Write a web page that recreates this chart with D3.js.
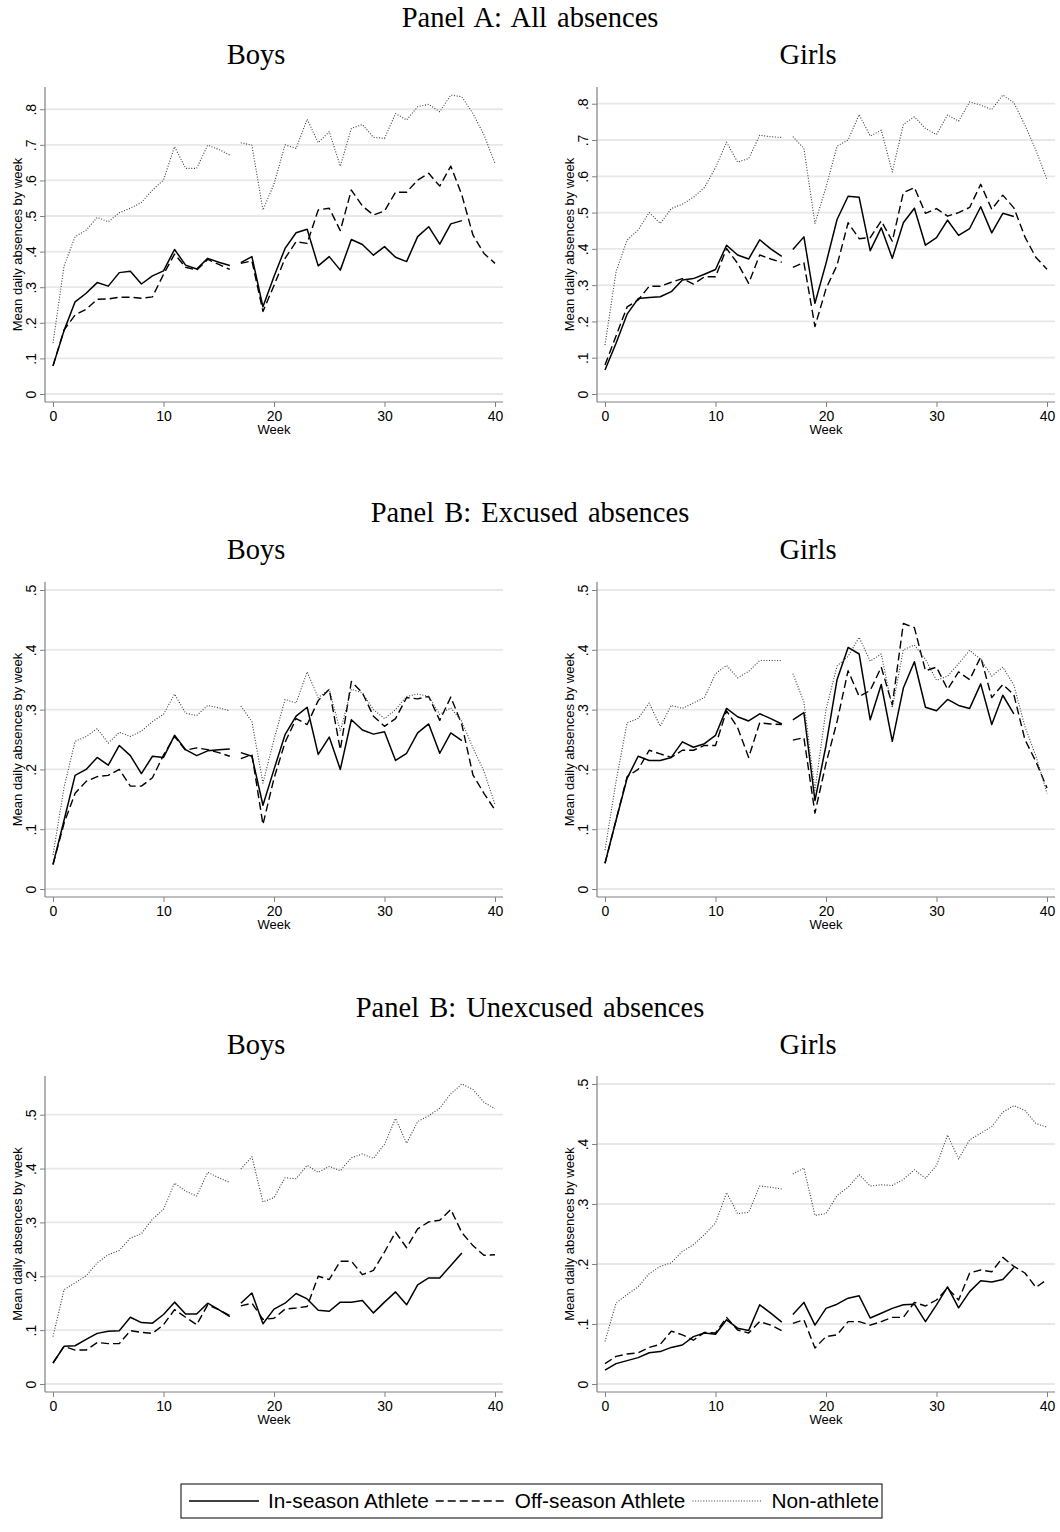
<!DOCTYPE html>
<html><head><meta charset="utf-8">
<script src="https://cdn.jsdelivr.net/npm/d3@7"></script>
<style>
html,body{margin:0;padding:0;background:#fff;}
svg{display:block;}
</style></head>
<body>
<svg id="chart" width="1060" height="1532"></svg>
<script>
// ---------------- DATA ----------------
const weeks = d3.range(0, 41);
const secondTermStart = 17;
const seriesNames = ["In-season Athlete", "Off-season Athlete", "Non-athlete"];
const panelTitles = ["Panel A: All absences", "Panel B: Excused absences", "Panel B: Unexcused absences"];
const genderLabels = ["Boys", "Girls"];
const allTicks = [0, .1, .2, .3, .4, .5, .6, .7, .8];
const excusedTicks = [0, .1, .2, .3, .4, .5];
const unexcusedTicks = [0, .1, .2, .3, .4, .5];
const weekTicks = [0, 10, 20, 30, 40];
const N = null;

// Panel A: all absences
const allBoysIn  = [0.079,0.178,0.259,0.283,0.313,0.303,0.341,0.345,0.309,0.332,0.346,0.406,0.362,0.351,0.381,0.370,0.361,0.369,0.386,0.245,0.330,0.409,0.453,0.463,0.360,0.386,0.348,0.434,0.420,0.390,0.414,0.384,0.372,0.442,0.470,0.421,0.478,0.487,N,N,N];
const allBoysOff = [0.079,0.180,0.222,0.238,0.266,0.267,0.272,0.272,0.269,0.273,0.336,0.393,0.356,0.348,0.378,0.364,0.350,0.367,0.374,0.232,0.305,0.381,0.428,0.423,0.517,0.522,0.459,0.573,0.528,0.503,0.514,0.567,0.567,0.601,0.620,0.584,0.640,0.559,0.447,0.395,0.367];
const allBoysNon = [0.143,0.360,0.442,0.460,0.496,0.484,0.509,0.522,0.538,0.573,0.601,0.695,0.634,0.634,0.699,0.687,0.671,0.706,0.699,0.517,0.590,0.700,0.690,0.772,0.706,0.737,0.640,0.746,0.757,0.721,0.718,0.788,0.770,0.807,0.814,0.793,0.840,0.835,0.788,0.728,0.648];
const allGirlsIn  = [0.066,0.140,0.220,0.263,0.266,0.268,0.282,0.314,0.318,0.330,0.343,0.410,0.383,0.372,0.425,0.400,0.379,0.398,0.433,0.250,0.360,0.481,0.545,0.542,0.395,0.458,0.374,0.472,0.512,0.410,0.431,0.479,0.437,0.456,0.516,0.444,0.498,0.489,N,N,N];
const allGirlsOff = [0.080,0.160,0.240,0.259,0.297,0.297,0.308,0.318,0.303,0.323,0.323,0.401,0.360,0.305,0.383,0.372,0.363,0.349,0.362,0.186,0.290,0.355,0.472,0.428,0.431,0.477,0.421,0.555,0.569,0.498,0.511,0.490,0.500,0.514,0.578,0.509,0.548,0.513,0.433,0.376,0.344];
const allGirlsNon = [0.135,0.337,0.424,0.452,0.500,0.470,0.511,0.523,0.542,0.569,0.624,0.694,0.639,0.649,0.713,0.709,0.707,0.709,0.677,0.470,0.570,0.683,0.700,0.770,0.711,0.727,0.612,0.743,0.764,0.732,0.715,0.769,0.752,0.805,0.796,0.784,0.824,0.803,0.741,0.672,0.591];

// Panel B: excused absences
const excBoysIn  = [0.041,0.115,0.190,0.200,0.220,0.207,0.240,0.223,0.193,0.222,0.220,0.257,0.233,0.223,0.231,0.233,0.234,0.228,0.222,0.140,0.200,0.258,0.289,0.304,0.225,0.254,0.200,0.283,0.266,0.259,0.263,0.215,0.227,0.261,0.276,0.227,0.261,0.248,N,N,N];
const excBoysOff = [0.041,0.110,0.160,0.180,0.188,0.190,0.200,0.172,0.172,0.186,0.224,0.255,0.232,0.236,0.233,0.228,0.222,0.218,0.225,0.108,0.185,0.245,0.285,0.275,0.315,0.334,0.233,0.347,0.328,0.289,0.272,0.285,0.320,0.318,0.322,0.282,0.321,0.275,0.191,0.160,0.132];
const excBoysNon = [0.057,0.170,0.247,0.255,0.268,0.244,0.262,0.255,0.264,0.280,0.292,0.326,0.294,0.290,0.307,0.303,0.298,0.306,0.280,0.177,0.250,0.317,0.311,0.363,0.320,0.334,0.264,0.334,0.328,0.300,0.285,0.300,0.322,0.326,0.322,0.292,0.303,0.280,0.236,0.197,0.141];
const excGirlsIn  = [0.043,0.115,0.185,0.222,0.215,0.215,0.220,0.246,0.237,0.243,0.257,0.302,0.288,0.281,0.293,0.285,0.276,0.283,0.295,0.148,0.240,0.350,0.404,0.393,0.283,0.342,0.247,0.336,0.380,0.304,0.298,0.317,0.307,0.302,0.343,0.275,0.324,0.293,N,N,N];
const excGirlsOff = [0.043,0.115,0.188,0.200,0.232,0.226,0.220,0.232,0.232,0.240,0.240,0.298,0.270,0.220,0.278,0.276,0.275,0.249,0.253,0.127,0.210,0.280,0.365,0.322,0.332,0.371,0.308,0.444,0.437,0.365,0.371,0.334,0.363,0.350,0.388,0.320,0.342,0.325,0.250,0.213,0.169];
const excGirlsNon = [0.065,0.180,0.278,0.285,0.311,0.272,0.307,0.302,0.311,0.320,0.360,0.374,0.353,0.364,0.382,0.382,0.382,0.360,0.313,0.165,0.300,0.373,0.389,0.421,0.381,0.393,0.303,0.400,0.408,0.384,0.349,0.356,0.377,0.399,0.384,0.356,0.371,0.341,0.272,0.222,0.160];

// Panel C: unexcused absences
const unxBoysIn  = [0.039,0.070,0.071,0.083,0.094,0.098,0.099,0.124,0.114,0.113,0.129,0.152,0.130,0.130,0.150,0.138,0.125,0.150,0.169,0.112,0.139,0.150,0.168,0.158,0.137,0.135,0.152,0.152,0.155,0.132,0.152,0.171,0.147,0.184,0.197,0.197,0.220,0.243,N,N,N];
const unxBoysOff = [0.039,0.070,0.063,0.063,0.077,0.075,0.075,0.099,0.096,0.094,0.110,0.138,0.124,0.110,0.147,0.138,0.127,0.145,0.150,0.120,0.122,0.139,0.141,0.144,0.200,0.194,0.228,0.228,0.203,0.211,0.245,0.282,0.253,0.288,0.301,0.304,0.324,0.281,0.257,0.239,0.240];
const unxBoysNon = [0.088,0.175,0.188,0.201,0.225,0.240,0.248,0.271,0.279,0.306,0.324,0.373,0.358,0.349,0.393,0.383,0.374,0.399,0.422,0.338,0.346,0.383,0.381,0.406,0.393,0.404,0.396,0.420,0.427,0.419,0.445,0.493,0.447,0.487,0.498,0.512,0.539,0.557,0.547,0.523,0.511];
const unxGirlsIn  = [0.023,0.034,0.039,0.044,0.052,0.054,0.061,0.065,0.079,0.085,0.083,0.107,0.093,0.089,0.132,0.118,0.103,0.116,0.136,0.098,0.126,0.133,0.143,0.147,0.110,0.118,0.126,0.132,0.133,0.104,0.132,0.162,0.127,0.154,0.172,0.170,0.174,0.194,N,N,N];
const unxGirlsOff = [0.034,0.046,0.050,0.052,0.061,0.066,0.088,0.082,0.073,0.086,0.085,0.111,0.090,0.085,0.104,0.098,0.089,0.101,0.107,0.060,0.079,0.082,0.104,0.104,0.098,0.104,0.111,0.111,0.136,0.130,0.140,0.160,0.140,0.185,0.190,0.187,0.211,0.196,0.185,0.161,0.174];
const unxGirlsNon = [0.071,0.135,0.149,0.162,0.184,0.196,0.202,0.221,0.232,0.249,0.268,0.319,0.284,0.286,0.330,0.328,0.325,0.350,0.360,0.281,0.284,0.314,0.328,0.349,0.330,0.332,0.331,0.341,0.357,0.343,0.364,0.415,0.375,0.407,0.418,0.429,0.453,0.464,0.456,0.434,0.428];

// ---------------- LAYOUT / STYLE ----------------
const svg = d3.select("#chart");
const sans = "'Liberation Sans', Arial, Helvetica, sans-serif";
const serif = "'Liberation Serif', 'Times New Roman', serif";
const cols = [{axisX: 45, right: 503, titleX: 256}, {axisX: 597, right: 1055, titleX: 808}];
const rows = [
  {top: 87, bottom: 402, titleY: 27, subY: 64},
  {top: 582, bottom: 897, titleY: 522, subY: 559},
  {top: 1076, bottom: 1392, titleY: 1017, subY: 1054}
];
const inset = 8;
const lineStyles = [
  {color: "#000", width: 1.5, dash: null},
  {color: "#000", width: 1.4, dash: "8,4"},
  {color: "#3a3a3a", width: 1.1, dash: "1,1.7"}
];
const axisColor = "#808080";
const gridColor = "#e8e8e8";

const panels = [
  {row: 0, col: 0, ticks: allTicks, series: [allBoysIn, allBoysOff, allBoysNon]},
  {row: 0, col: 1, ticks: allTicks, series: [allGirlsIn, allGirlsOff, allGirlsNon]},
  {row: 1, col: 0, ticks: excusedTicks, series: [excBoysIn, excBoysOff, excBoysNon]},
  {row: 1, col: 1, ticks: excusedTicks, series: [excGirlsIn, excGirlsOff, excGirlsNon]},
  {row: 2, col: 0, ticks: unexcusedTicks, series: [unxBoysIn, unxBoysOff, unxBoysNon]},
  {row: 2, col: 1, ticks: unexcusedTicks, series: [unxGirlsIn, unxGirlsOff, unxGirlsNon]}
];

const fmtY = d => d === 0 ? "0" : d3.format(".1f")(d).replace(/^0/, "");

// titles
rows.forEach((r, i) => {
  svg.append("text").attr("x", 530).attr("y", r.titleY)
    .attr("text-anchor", "middle").attr("font-family", serif)
    .attr("font-size", 28.5).attr("word-spacing", 3).attr("fill", "#000")
    .text(panelTitles[i]);
  cols.forEach((c, j) => {
    svg.append("text").attr("x", c.titleX).attr("y", r.subY)
      .attr("text-anchor", "middle").attr("font-family", serif)
      .attr("font-size", 28.5).attr("fill", "#000")
      .text(genderLabels[j]);
  });
});

panels.forEach(p => {
  const r = rows[p.row], c = cols[p.col];
  const g = svg.append("g");
  const yMax = Math.max(d3.max(p.series.flat().filter(v => v != null)), d3.max(p.ticks));
  const x = d3.scaleLinear().domain([0, 40]).range([c.axisX + inset, c.right - inset]);
  const y = d3.scaleLinear().domain([0, yMax]).range([r.bottom - inset, r.top + inset]);

  // grid
  g.append("g").selectAll("line").data(p.ticks).join("line")
    .attr("x1", c.axisX).attr("x2", c.right)
    .attr("y1", d => y(d)).attr("y2", d => y(d))
    .attr("stroke", gridColor).attr("stroke-width", 1.8);

  // y axis
  const ya = g.append("g").attr("transform", `translate(${c.axisX},0)`)
    .call(d3.axisLeft(y).tickValues(p.ticks).tickSize(5).tickFormat(fmtY));
  ya.select(".domain").remove();
  ya.selectAll(".tick line").attr("stroke", axisColor);
  ya.selectAll(".tick text")
    .attr("transform", "rotate(-90)")
    .attr("x", 0).attr("y", -9.5).attr("dy", 0)
    .attr("text-anchor", "middle")
    .attr("font-family", sans).attr("font-size", 14).attr("fill", "#000");

  // x axis
  const xa = g.append("g").attr("transform", `translate(0,${r.bottom})`)
    .call(d3.axisBottom(x).tickValues(weekTicks).tickSize(5));
  xa.select(".domain").remove();
  xa.selectAll(".tick line").attr("stroke", axisColor);
  xa.selectAll(".tick text").attr("y", 9).attr("font-family", sans)
    .attr("font-size", 14).attr("fill", "#000");

  // axis lines
  g.append("line").attr("x1", c.axisX).attr("x2", c.axisX)
    .attr("y1", r.top).attr("y2", r.bottom)
    .attr("stroke", axisColor).attr("stroke-width", 1.2);
  g.append("line").attr("x1", c.axisX).attr("x2", c.right)
    .attr("y1", r.bottom).attr("y2", r.bottom)
    .attr("stroke", axisColor).attr("stroke-width", 1.2);

  // axis titles
  g.append("text").attr("x", (c.axisX + inset + c.right - inset) / 2).attr("y", r.bottom + 31.5)
    .attr("text-anchor", "middle").attr("font-family", sans).attr("font-size", 13)
    .attr("fill", "#000").text("Week");
  const yc = (r.top + r.bottom) / 2;
  g.append("text")
    .attr("transform", `translate(${c.axisX - 23.5},${yc}) rotate(-90)`)
    .attr("text-anchor", "middle").attr("font-family", sans).attr("font-size", 13)
    .attr("fill", "#000").text("Mean daily absences by week");

  // series lines (break between terms)
  const line = d3.line().defined(d => d.v != null).x(d => x(d.w)).y(d => y(d.v));
  p.series.forEach((vals, si) => {
    const pts = weeks.map(w => ({w, v: vals[w]}));
    const segs = [pts.filter(d => d.w < secondTermStart), pts.filter(d => d.w >= secondTermStart)];
    const st = lineStyles[si];
    segs.forEach(seg => {
      g.append("path").attr("d", line(seg)).attr("fill", "none")
        .attr("stroke", st.color).attr("stroke-width", st.width)
        .attr("stroke-dasharray", st.dash).attr("stroke-linejoin", "round");
    });
  });
});

// legend
const lg = svg.append("g");
const legY = 1501, sampleLen = 70;
const box = lg.append("rect");
let cx = 189;
seriesNames.forEach((name, i) => {
  const st = lineStyles[i];
  lg.append("line").attr("x1", cx).attr("x2", cx + sampleLen)
    .attr("y1", legY).attr("y2", legY)
    .attr("stroke", st.color).attr("stroke-width", st.width)
    .attr("stroke-dasharray", st.dash);
  const t = lg.append("text").attr("x", cx + sampleLen + 9).attr("y", legY + 7)
    .attr("font-family", sans).attr("font-size", 20.8).attr("fill", "#000").text(name);
  cx += sampleLen + 9 + t.node().getComputedTextLength() + 7;
});
box.attr("x", 181).attr("y", 1484).attr("width", cx - 4 - 181).attr("height", 34)
  .attr("fill", "#fff").attr("stroke", "#000").attr("stroke-width", 1);
</script>
</body></html>
